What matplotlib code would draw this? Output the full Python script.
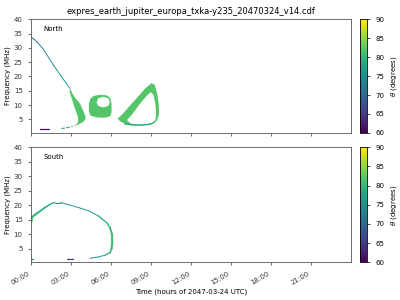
import numpy as np
import matplotlib
matplotlib.use('Agg')
import matplotlib.pyplot as plt
from matplotlib.collections import LineCollection
from matplotlib.colors import Normalize
from matplotlib.cm import ScalarMappable

title = 'expres_earth_jupiter_europa_txka-y235_20470324_v14.cdf'
hour_ticks = [0, 3, 6, 9, 12, 15, 18, 21]
hour_labels = ['00:00', '03:00', '06:00', '09:00', '12:00', '15:00', '18:00', '21:00']
freq_ticks = [5, 10, 15, 20, 25, 30, 35, 40]
theta_ticks = [60, 65, 70, 75, 80, 85, 90]

# --- North: thin line coming down from 34 MHz
n_line_t = [0.0, 0.2, 0.43, 0.93, 1.68, 2.43, 2.93]
n_line_f = [33.7, 33.1, 32.2, 29.5, 24.0, 19.0, 15.8]
n_line_th = [71, 71, 72, 74, 75, 76, 78]
# tail under the crescent
n_tail_t = [2.3, 2.7, 3.1]
n_tail_f = [1.85, 2.1, 2.5]
n_tail_th = [76, 77, 78]
# short low segment
n_low_t = [0.68, 1.35]
n_low_f = [1.6, 1.6]
n_low_th = [61, 61]

# crescent
n_cres_t = [2.93, 3.1, 3.35, 3.67, 3.85, 4.0, 4.1, 4.08, 3.93, 3.55, 3.3, 3.1,
            3.35, 3.5, 3.55, 3.43, 3.3, 3.17, 3.05, 2.9]
n_cres_f = [15.8, 14.1, 12.3, 10.6, 8.8, 7.1, 5.9, 5.0, 4.15, 3.25, 2.75, 2.55,
            3.05, 3.8, 5.35, 7.1, 8.8, 10.6, 12.5, 14.5]
n_cres_th = 82

# ring
n_ring_t = [4.45, 4.7, 5.2, 5.7, 5.95, 6.05, 6.05, 5.95, 5.5, 4.9, 4.45, 4.35, 4.35]
n_ring_f = [12.2, 13.2, 13.6, 13.4, 12.5, 10.5, 7.5, 6.1, 5.6, 5.7, 6.4, 8.0, 10.5]
n_ring_hole_t = [4.93, 5.05, 5.43, 5.8, 5.93, 5.8, 5.43, 5.05]
n_ring_hole_f = [11.05, 12.4, 12.9, 12.4, 11.05, 9.7, 9.2, 9.7]
n_ring_th = 82

# loop
n_loop_t = [6.5, 6.9, 7.58, 8.1, 8.58, 9.05, 9.3, 9.5, 9.6, 9.62, 9.5, 9.33,
            8.9, 8.3, 7.6, 7.1, 6.7]
n_loop_f = [5.3, 7.0, 10.6, 13.3, 15.85, 17.7, 17.0, 13.5, 10.0, 7.0, 5.0, 4.0,
            3.2, 2.95, 3.0, 3.4, 4.3]
n_loop_hole_t = [7.2, 7.6, 8.2, 8.7, 9.0, 9.2, 9.32, 9.4, 9.35, 9.15, 8.7, 8.0, 7.5]
n_loop_hole_f = [4.75, 6.8, 10.6, 13.3, 14.6, 13.5, 11.0, 7.5, 5.0, 3.95, 3.4, 3.25, 3.55]
n_loop_th = 82
n_loop_low_t = [7.0, 7.6, 8.3, 8.9, 9.25]
n_loop_low_f = [3.45, 3.05, 3.0, 3.25, 3.85]
n_loop_low_th = [78, 77, 77, 78, 80]

# --- South
s_arc_t = [0.02, 0.05, 0.3, 0.55, 1.05, 1.55, 1.8, 2.2, 2.8, 3.55, 4.3, 5.05,
           5.68, 5.93, 6.08, 6.1, 6.05, 5.93, 5.55, 5.05, 4.43]
s_arc_f = [14.3, 15.75, 16.7, 17.5, 19.2, 20.6, 20.9, 20.9, 20.2, 19.2, 18.1, 16.3,
           14.0, 12.3, 10.0, 7.0, 5.0, 3.6, 2.7, 2.1, 1.65]
s_arc_th = [81, 81, 80, 80, 79, 77, 76, 75, 75, 75, 76, 77,
            79, 80, 81, 81, 81, 79, 77, 76, 75]
s_arc_lw = [1.8, 1.6, 1.5, 1.3, 1.0, 0.8, 0.7, 0.7, 0.7, 0.7, 0.7, 0.9,
            1.0, 1.4, 1.6, 1.6, 1.2, 0.9, 0.7, 0.7]
s_low1_t = [0.0, 0.18]
s_low1_f = [1.3, 1.3]
s_low1_th = [72, 72]
s_low2_t = [2.68, 3.18]
s_low2_f = [1.3, 1.3]
s_low2_th = [65, 65]

cmap = plt.get_cmap('viridis')
norm = Normalize(60, 90)


def curve(ax, t, f, th, lw=0.7, ls='-'):
    pts = np.column_stack([t, f]).reshape(-1, 1, 2)
    segs = np.concatenate([pts[:-1], pts[1:]], axis=1)
    lc = LineCollection(segs, cmap=cmap, norm=norm, linewidths=lw,
                        linestyles=ls, capstyle='round')
    th = np.array(th, dtype=float)
    lc.set_array((th[:-1] + th[1:]) / 2)
    ax.add_collection(lc)


def style(ax, label):
    ax.set_xlim(0, 24)
    ax.set_ylim(0.3, 40)
    ax.set_xticks(hour_ticks)
    ax.set_yticks(freq_ticks)
    ax.tick_params(labelsize=5, length=2.5, width=0.5, colors='#333333')
    for s in ax.spines.values():
        s.set_linewidth(0.6)
        s.set_color('#555555')
    ax.set_ylabel('Frequency (MHz)', fontsize=5, labelpad=2)
    ax.text(0.04, 0.915, label, transform=ax.transAxes, fontsize=5, va='center')


fig = plt.figure(figsize=(4, 3), dpi=100)
ax1 = fig.add_axes([0.0775, 0.557, 0.799, 0.379])
ax2 = fig.add_axes([0.0775, 0.126, 0.799, 0.383])
cax1 = fig.add_axes([0.9, 0.557, 0.018, 0.379])
cax2 = fig.add_axes([0.9, 0.126, 0.018, 0.383])

# North
ax1.fill(n_cres_t, n_cres_f, color=cmap(norm(n_cres_th)), lw=0)
ax1.fill(n_ring_t, n_ring_f, color=cmap(norm(n_ring_th)), lw=0)
ax1.fill(n_ring_hole_t, n_ring_hole_f, color='white', lw=0)
ax1.fill(n_loop_t, n_loop_f, color=cmap(norm(n_loop_th)), lw=0)
ax1.fill(n_loop_hole_t, n_loop_hole_f, color='white', lw=0)
curve(ax1, n_loop_low_t, n_loop_low_f, n_loop_low_th, lw=0.8)
curve(ax1, n_line_t, n_line_f, n_line_th, lw=0.7)
curve(ax1, n_tail_t, n_tail_f, n_tail_th, lw=0.7, ls=(0, (3, 2)))
curve(ax1, n_low_t, n_low_f, n_low_th, lw=0.9)
style(ax1, 'North')
ax1.set_xticklabels([])
ax1.set_title(title, fontsize=6, pad=4)

# South
curve(ax2, s_arc_t, s_arc_f, s_arc_th, lw=s_arc_lw)
curve(ax2, s_low1_t, s_low1_f, s_low1_th, lw=0.9)
curve(ax2, s_low2_t, s_low2_f, s_low2_th, lw=0.9)
style(ax2, 'South')
ax2.set_xticklabels(hour_labels, rotation=30, ha='right')
ax2.set_xlabel('Time (hours of 2047-03-24 UTC)', fontsize=5, labelpad=2)

for cax in (cax1, cax2):
    cb = fig.colorbar(ScalarMappable(norm=norm, cmap=cmap), cax=cax, ticks=theta_ticks)
    cb.ax.tick_params(labelsize=5, length=2.5, width=0.5)
    cb.outline.set_linewidth(0.6)
    cb.set_label(r'$\theta$ (degrees)', fontsize=5, labelpad=3)

fig.savefig('out.png', dpi=100)
